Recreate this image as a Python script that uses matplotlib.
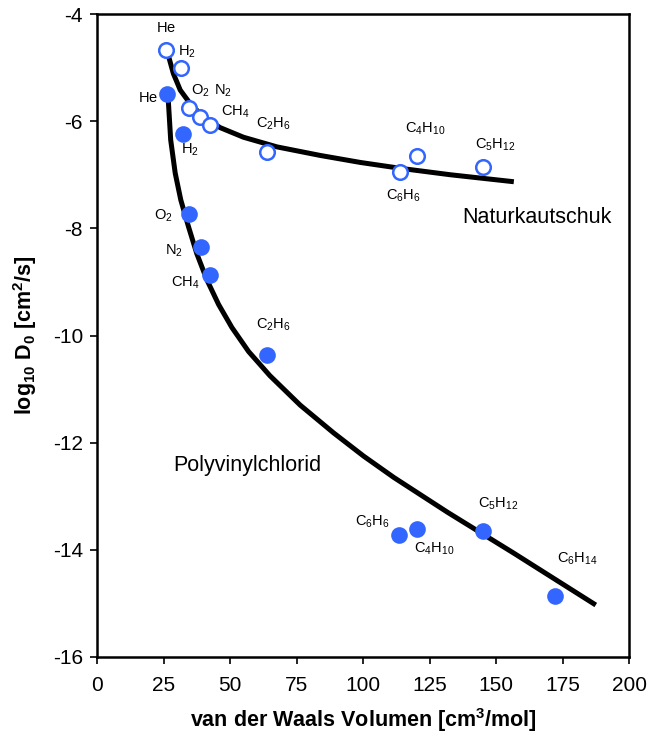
import matplotlib
matplotlib.use("Agg")
import matplotlib.pyplot as plt

plt.rcParams["font.family"] = ["Liberation Sans", "DejaVu Sans"]
plt.rcParams["mathtext.fontset"] = "custom"
plt.rcParams["mathtext.rm"] = "Liberation Sans"
plt.rcParams["mathtext.bf"] = "Liberation Sans:bold"
plt.rcParams["axes.unicode_minus"] = False

# gas names
gases_nr = ["He", "H2", "O2", "N2", "CH4", "C2H6", "C6H6", "C4H10", "C5H12"]
gases_pvc = ["He", "H2", "O2", "N2", "CH4", "C2H6", "C6H6", "C4H10", "C5H12", "C6H14"]

# Naturkautschuk (open circles)
vol_nr = [25.9, 31.6, 34.6, 38.7, 42.5, 63.9, 113.9, 120.3, 145.1]
logd_nr = [-4.67, -5.01, -5.76, -5.93, -6.07, -6.58, -6.95, -6.65, -6.86]

# Polyvinylchlorid (filled circles)
vol_pvc = [26.3, 32.3, 34.6, 39.1, 42.5, 63.9, 113.5, 120.3, 145.1, 172.2]
logd_pvc = [-5.50, -6.24, -7.74, -8.34, -8.88, -10.36, -13.72, -13.61, -13.64, -14.86]

# fitted curves
curve_nr_x = [26.8, 28.7, 31.3, 35.0, 40.0, 46.3, 55.1, 67.7, 84.0, 99.0, 114.1, 132.9, 156.7]
curve_nr_y = [-4.77, -5.11, -5.42, -5.67, -5.92, -6.12, -6.30, -6.48, -6.64, -6.77, -6.88, -7.00, -7.13]
curve_pvc_x = [26.8, 27.7, 29.4, 31.5, 34.4, 37.5, 41.3, 45.7, 50.7, 57.0, 65.0, 76.4, 89.0,
               100.2, 111.6, 131.8, 156.6, 187.5]
curve_pvc_y = [-5.61, -6.35, -6.97, -7.47, -7.97, -8.47, -8.96, -9.42, -9.85, -10.30, -10.75,
               -11.30, -11.82, -12.25, -12.65, -13.30, -14.06, -15.03]

# label offsets in pixels
off_nr = [(0, 22), (6, 16), (11, 18), (23, 27), (25, 13), (6, 28), (3, -24), (8, 27), (12, 22)]
off_pvc = [(-19, -4), (7, -16), (-26, -1), (-27, -4), (-25, -7), (6, 30), (-27, 13), (17, -20), (15, 27), (22, 37)]

blue = "#3366FF"


def fmt(name):
    out = ""
    for ch in name:
        out += "_{%s}" % ch if ch.isdigit() else ch
    out = out.replace("}_{", "")
    return r"$\mathregular{%s}$" % out


fig = plt.figure(figsize=(6.48, 7.39), dpi=100)
ax = fig.add_axes([0.1497, 0.111, 0.8210, 0.870])

ax.plot(curve_nr_x, curve_nr_y, color="black", lw=3.6, solid_capstyle="butt",
        solid_joinstyle="round", zorder=2)
ax.plot(curve_pvc_x, curve_pvc_y, color="black", lw=3.6, solid_capstyle="butt",
        solid_joinstyle="round", zorder=2)

ax.plot(vol_nr, logd_nr, "o", ms=10.5, mfc="white", mec=blue, mew=1.8, ls="none", zorder=3)
ax.plot(vol_pvc, logd_pvc, "o", ms=12, mfc=blue, mec=blue, mew=0, ls="none", zorder=3)

for name, x, y, off in zip(gases_nr, vol_nr, logd_nr, off_nr):
    ax.annotate(fmt(name), (x, y), xytext=off, textcoords="offset pixels",
                ha="center", va="center", fontsize=10.5)
for name, x, y, off in zip(gases_pvc, vol_pvc, logd_pvc, off_pvc):
    ax.annotate(fmt(name), (x, y), xytext=off, textcoords="offset pixels",
                ha="center", va="center", fontsize=10.5)

ax.text(137.4, -7.79, "Naturkautschuk", fontsize=15.5, ha="left", va="center")
ax.text(28.6, -12.42, "Polyvinylchlorid", fontsize=15.5, ha="left", va="center")

ax.set_xlim(0, 200)
ax.set_ylim(-16, -4)
ax.set_xticks(range(0, 201, 25))
ax.set_yticks(range(-16, -3, 2))
ax.tick_params(direction="out", length=5, width=1.2, labelsize=15)
ax.tick_params(axis="x", pad=9)
ax.tick_params(axis="y", pad=5)
for s in ax.spines.values():
    s.set_linewidth(1.8)

ax.set_xlabel(r"van der Waals Volumen [cm$^{\mathregular{3}}$/mol]", fontsize=15.5,
              fontweight="bold", labelpad=8)
ax.set_ylabel(r"log$_{\mathbf{10}}$ D$_{\mathbf{0}}$ [cm$^{\mathbf{2}}$/s]", fontsize=15.5,
              fontweight="bold", labelpad=10)

fig.savefig("out.png", dpi=100)
